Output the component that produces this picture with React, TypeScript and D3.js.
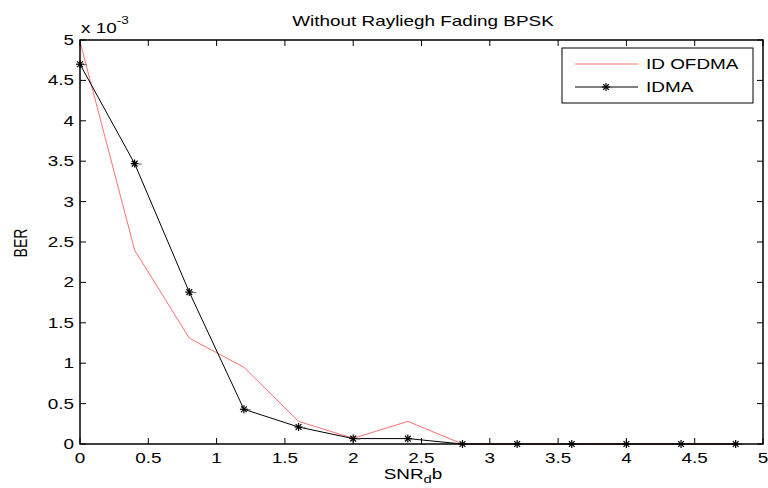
import React from "react";
import * as d3 from "d3";

const snr = [0, 0.4, 0.8, 1.2, 1.6, 2.0, 2.4, 2.8, 3.2, 3.6, 4.0, 4.4, 4.8];
const idOfdma = [4.98, 2.4, 1.31, 0.95, 0.28, 0.07, 0.28, 0, 0, 0, 0, 0, 0];
const idma = [4.7, 3.47, 1.88, 0.43, 0.21, 0.067, 0.067, 0, 0, 0, 0, 0, 0];
const xTicks = [0, 0.5, 1, 1.5, 2, 2.5, 3, 3.5, 4, 4.5, 5];
const yTicks = [0, 0.5, 1, 1.5, 2, 2.5, 3, 3.5, 4, 4.5, 5];
const seriesNames = ["ID OFDMA", "IDMA"];

const W = 768, H = 488;
const L = 80, R = 763, T = 40, B = 444;
const FONT = "'Liberation Sans', Arial, sans-serif";
const SX = 1.35;

function T2({
  x,
  y,
  anchor = "start",
  size = 14,
  children,
}: {
  x: number;
  y: number;
  anchor?: string;
  size?: number;
  children: React.ReactNode;
}) {
  return (
    <text
      transform={`translate(${x},${y}) scale(${SX},1)`}
      fontSize={size}
      textAnchor={anchor as any}
      fill="#000"
    >
      {children}
    </text>
  );
}

function Star({ x, y, s = 4 }: { x: number; y: number; s?: number }) {
  const d = s * 0.72;
  return (
    <g stroke="#000" strokeWidth={1.2} fill="none">
      <line x1={x - s} y1={y} x2={x + s} y2={y} />
      <line x1={x} y1={y - s} x2={x} y2={y + s} />
      <line x1={x - d} y1={y - d} x2={x + d} y2={y + d} />
      <line x1={x - d} y1={y + d} x2={x + d} y2={y - d} />
      <line x1={x + s} y1={y + 0.5} x2={x + s + 3} y2={y + 0.5} stroke="#777" />
    </g>
  );
}

export default function App() {
  const xs = d3.scaleLinear().domain([0, 5]).range([L, R]);
  const ys = d3.scaleLinear().domain([0, 5]).range([B, T]);
  const line = d3
    .line<[number, number]>()
    .x((d) => xs(d[0]))
    .y((d) => ys(d[1]));
  const redPts = snr.map((x, i) => [x, idOfdma[i]] as [number, number]);
  const blkPts = snr.map((x, i) => [x, idma[i]] as [number, number]);
  const tk = 6;

  return (
    <svg
      width={W}
      height={H}
      style={{ position: "absolute", left: 0, top: 0, background: "#fff" }}
      fontFamily={FONT}
    >
      <rect x={0} y={0} width={W} height={H} fill="#fff" />
      {/* data */}
      <path d={line(redPts) || ""} fill="none" stroke="#ff7070" strokeWidth={1} />
      <path d={line(blkPts) || ""} fill="none" stroke="#000" strokeWidth={1} />
      {blkPts.map((p, i) => (
        <Star key={i} x={xs(p[0])} y={ys(p[1])} />
      ))}
      {/* axes box */}
      <rect x={L} y={T} width={R - L} height={B - T} fill="none" stroke="#000" strokeWidth={1.5} />
      {xTicks.map((t) => (
        <g key={"x" + t}>
          <line x1={xs(t)} x2={xs(t)} y1={B} y2={B - tk} stroke="#000" />
          <line x1={xs(t)} x2={xs(t)} y1={T} y2={T + tk} stroke="#000" />
          <T2 x={xs(t)} y={B + 19} anchor="middle">
            {String(t)}
          </T2>
        </g>
      ))}
      {yTicks.map((t) => (
        <g key={"y" + t}>
          <line x1={L} x2={L + tk} y1={ys(t)} y2={ys(t)} stroke="#000" />
          <line x1={R} x2={R - tk} y1={ys(t)} y2={ys(t)} stroke="#000" />
          <T2 x={L - 6} y={ys(t) + 5} anchor="end">
            {String(t)}
          </T2>
        </g>
      ))}
      {/* exponent */}
      <T2 x={L + 1} y={33}>
        x 10
        <tspan dy={-9} fontSize={10}>-3</tspan>
      </T2>
      {/* title */}
      <T2 x={423} y={26} anchor="middle">
        Without Rayliegh Fading BPSK
      </T2>
      {/* axis labels */}
      <T2 x={413} y={479} anchor="middle">
        SNR
        <tspan dy={4} fontSize={11}>d</tspan>
        <tspan dy={-4}>b</tspan>
      </T2>
      <text
        transform={`translate(27, 243) rotate(-90) scale(1,${SX})`}
        fontSize={14}
        textAnchor="middle"
        fill="#000"
      >
        BER
      </text>
      {/* legend */}
      <g>
        <rect x={562} y={48} width={191} height={55} fill="#fff" stroke="#000" strokeWidth={1} />
        <line x1={575} x2={638} y1={64} y2={64} stroke="#ff7070" />
        <T2 x={646} y={69}>{seriesNames[0]}</T2>
        <line x1={575} x2={638} y1={87} y2={87} stroke="#000" />
        <Star x={606} y={87} />
        <T2 x={646} y={92}>{seriesNames[1]}</T2>
      </g>
    </svg>
  );
}
